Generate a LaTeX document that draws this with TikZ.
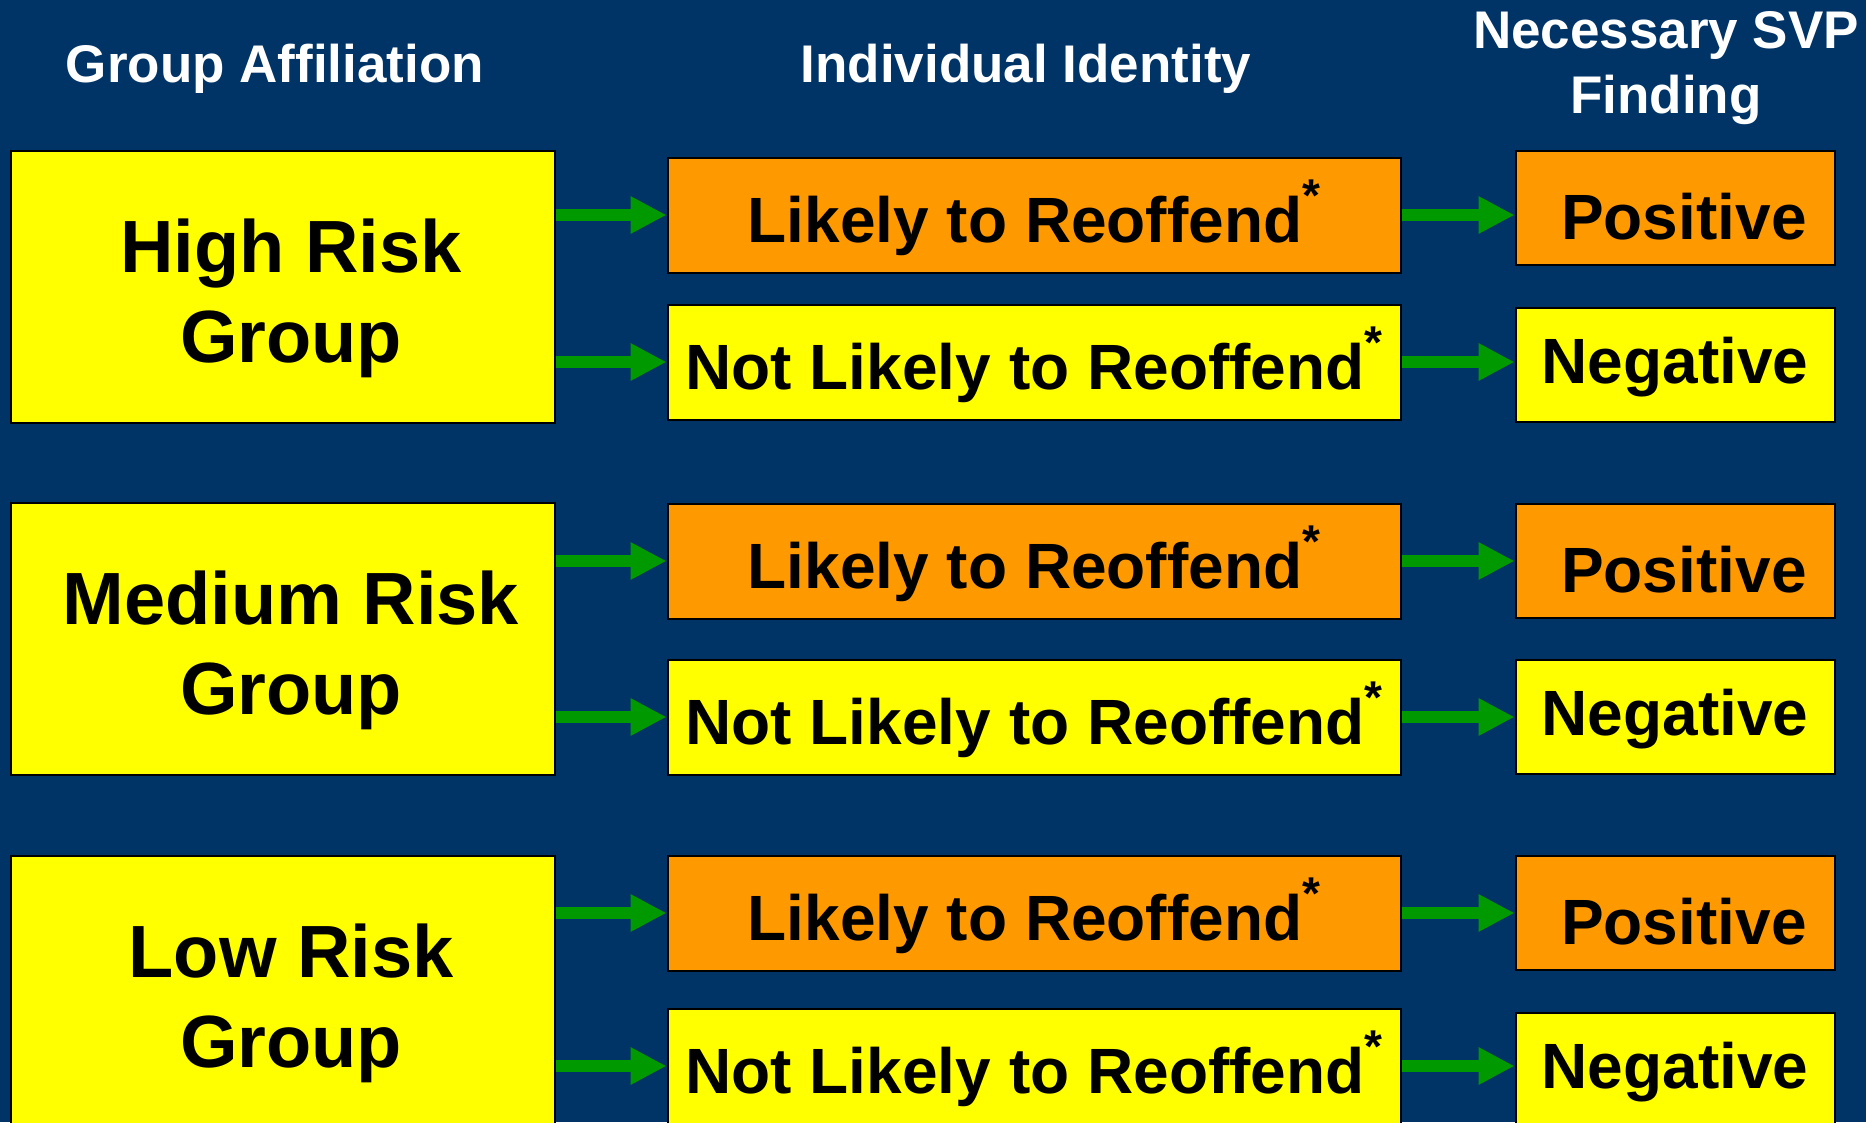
\documentclass[tikz,border=0pt]{standalone}
\usepackage{fontspec}
\setmainfont{Liberation Sans}
\usepackage{tikz}
\usetikzlibrary{arrows.meta}

\definecolor{slide}{RGB}{0,51,102}
\definecolor{boxyellow}{RGB}{255,255,0}
\definecolor{boxorange}{RGB}{255,153,0}
\definecolor{flowgreen}{RGB}{0,153,0}

\newcommand\refmark{\raisebox{31pt}{\fontsize{46}{46}\selectfont *}}

\tikzset{
  hdr/.style={text=white, anchor=base, align=center, font=\fontsize{53}{65}\selectfont\bfseries},
  box/.style={draw=black, line width=2pt, inner sep=0pt},
  groupbox/.style={box, fill=boxyellow, minimum width=544pt, minimum height=272pt, align=center,
    font=\fontsize{74}{90}\selectfont\bfseries, text height=150pt, text depth=0pt},
  idbox/.style={box, minimum width=733pt, minimum height=115pt,
    font=\fontsize{64}{76}\selectfont\bfseries, text height=54pt, text depth=0pt},
  findbox/.style={box, minimum width=319pt, minimum height=114pt,
    font=\fontsize{64}{76}\selectfont\bfseries},
  likely/.style={idbox, fill=boxorange},
  notlikely/.style={idbox, fill=boxyellow},
  posbox/.style={findbox, fill=boxorange, text height=62pt, text depth=0pt},
  negbox/.style={findbox, fill=boxyellow, text height=36pt, text depth=0pt},
  flow/.style={draw=flowgreen, line width=12pt, -{Triangle[length=36pt, width=35pt]}}
}

\begin{document}
\begin{tikzpicture}[x=1pt, y=-1pt]
\useasboundingbox (0,0) rectangle (1866,1122);
\fill[slide] (0,0) rectangle (1866,1122);
\clip (0,0) rectangle (1866,1122);

% column heads
\node[hdr] (hgroup) at (275,82) {Group Affiliation};
\node[hdr] (hident) at (1026,82) {Individual Identity};
\node[hdr] (hfind) at (1666,113) {Necessary SVP\\Finding};

% risk groups
\node[groupbox] (high) at (283,287) {\hspace*{16pt}High Risk\\\hspace*{16pt}Group};
\node[groupbox] (medium) at (283,639) {\hspace*{16pt}Medium Risk\\\hspace*{16pt}Group};
\node[groupbox] (low) at (283,992) {\hspace*{16pt}Low Risk\\\hspace*{16pt}Group};

% individual identity
\node[likely] (likely1) at (1034,215) {Likely to Reoffend\refmark};
\node[notlikely] (notlikely1) at (1034,362) {Not Likely to Reoffend\refmark};
\node[likely] (likely2) at (1034,561) {Likely to Reoffend\refmark};
\node[notlikely] (notlikely2) at (1034,717) {Not Likely to Reoffend\refmark};
\node[likely] (likely3) at (1034,913) {Likely to Reoffend\refmark};
\node[notlikely] (notlikely3) at (1034,1066) {Not Likely to Reoffend\refmark};

% findings
\node[posbox] (pos1) at (1675,208) {\hspace{0.278em}Positive};
\node[negbox] (neg1) at (1675,365) {Negative};
\node[posbox] (pos2) at (1675,561) {\hspace{0.278em}Positive};
\node[negbox] (neg2) at (1675,717) {Negative};
\node[posbox] (pos3) at (1675,913) {\hspace{0.278em}Positive};
\node[negbox] (neg3) at (1675,1070) {Negative};

% arrows
\draw[flow] (high.east |- likely1.west) -- (likely1.west);
\draw[flow] (high.east |- notlikely1.west) -- (notlikely1.west);
\draw[flow] (medium.east |- likely2.west) -- (likely2.west);
\draw[flow] (medium.east |- notlikely2.west) -- (notlikely2.west);
\draw[flow] (low.east |- likely3.west) -- (likely3.west);
\draw[flow] (low.east |- notlikely3.west) -- (notlikely3.west);

\draw[flow] (likely1.east) -- (likely1.east -| pos1.west);
\draw[flow] (notlikely1.east) -- (notlikely1.east -| neg1.west);
\draw[flow] (likely2.east) -- (likely2.east -| pos2.west);
\draw[flow] (notlikely2.east) -- (notlikely2.east -| neg2.west);
\draw[flow] (likely3.east) -- (likely3.east -| pos3.west);
\draw[flow] (notlikely3.east) -- (notlikely3.east -| neg3.west);
\end{tikzpicture}
\end{document}
